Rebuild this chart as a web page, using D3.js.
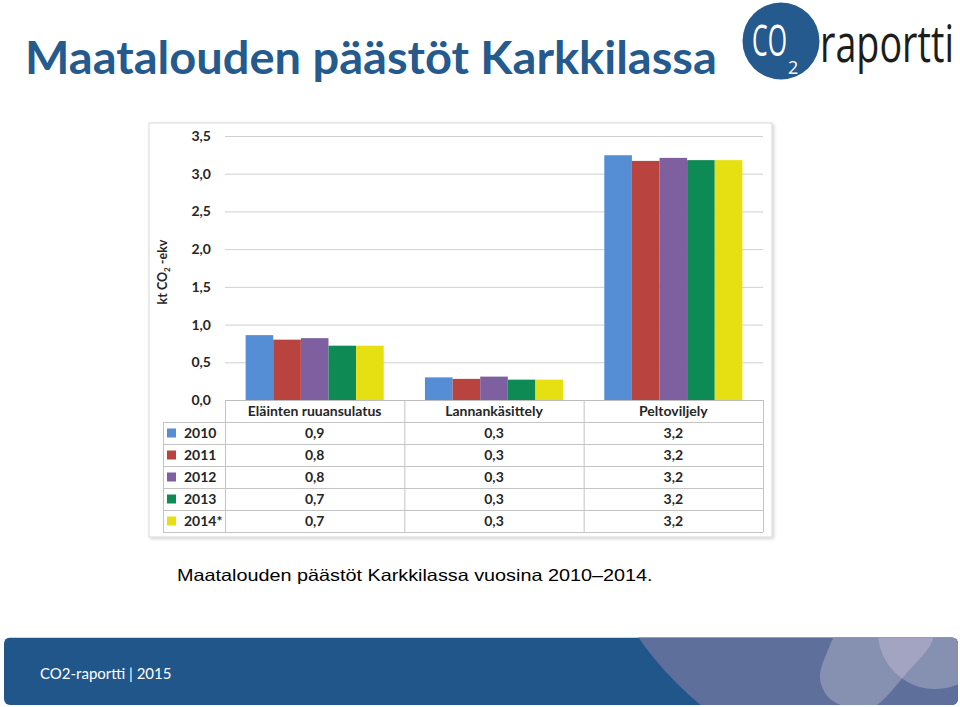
<!DOCTYPE html>
<html><head><meta charset="utf-8">
<script src="https://cdn.jsdelivr.net/npm/d3@7"></script>
<style>body{margin:0;background:#fff}svg{display:block}</style>
</head><body>
<script>
// ---- data ----
const categories = ["Eläinten ruuansulatus", "Lannankäsittely", "Peltoviljely"];
const years = ["2010", "2011", "2012", "2013", "2014*"];
const v2010 = [0.86, 0.30, 3.245];
const v2011 = [0.80, 0.28, 3.17];
const v2012 = [0.82, 0.31, 3.21];
const v2013 = [0.72, 0.27, 3.18];
const v2014 = [0.72, 0.27, 3.18];
const yTicks = [0, 0.5, 1, 1.5, 2, 2.5, 3, 3.5];
const seriesColors = ["#558ED5", "#B9433F", "#7E5F9F", "#0E8A55", "#E6E012"];
const titleText = "Maatalouden päästöt Karkkilassa";
const captionText = "Maatalouden päästöt Karkkilassa vuosina 2010–2014.";
const footerText = "CO2-raportti | 2015";

const seriesValues = [v2010, v2011, v2012, v2013, v2014];
const series = years.map((y, i) => ({name: y, values: seriesValues[i], color: seriesColors[i]}));

const W = 960, H = 707;
const svg = d3.select("body").append("svg").attr("width", W).attr("height", H);
svg.append("rect").attr("width", W).attr("height", H).attr("fill", "#fff");

const fiLocale = d3.formatLocale({decimal: ",", thousands: " ", grouping: [3], currency: ["", "€"]});
const fmt = fiLocale.format(".1f");

// place a text at (x,y) and scale it horizontally so that it spans width w
function scaledText(parent, x, y, w, str, attrs) {
  const g = parent.append("g");
  const t = g.append("text").attr("x", 0).attr("y", 0).text(str);
  Object.entries(attrs).forEach(([k, v]) => t.attr(k, v));
  const L = t.node().getComputedTextLength();
  g.attr("transform", `translate(${x},${y}) scale(${w / L},1)`);
  return t;
}

// ---- title ----
scaledText(svg, 25, 74, 692, titleText, {
  "font-family": "Lato, 'Open Sans', sans-serif", "font-weight": 700, "font-size": 45, "fill": "#245A8E"});

// ---- logo ----
const logo = svg.append("g");
logo.append("circle").attr("cx", 781).attr("cy", 41).attr("r", 38.5).attr("fill", "#245A8E");
scaledText(logo, 752, 56, 35, "CO", {
  "font-family": "'Open Sans', sans-serif", "font-weight": 400, "font-size": 44, "fill": "#fff"});
logo.append("text").attr("x", 788).attr("y", 74)
  .attr("font-family", "'Open Sans', sans-serif").attr("font-size", 18).attr("fill", "#fff").text("2");
scaledText(logo, 820, 62, 134, "raportti", {
  "font-family": "'Open Sans', sans-serif", "font-weight": 400, "font-size": 52, "fill": "#1d1d1b"});

// ---- chart frame ----
const defs = svg.append("defs");
const sh = defs.append("filter").attr("id", "sh").attr("x", "-5%").attr("y", "-5%").attr("width", "110%").attr("height", "110%");
sh.append("feDropShadow").attr("dx", 1.5).attr("dy", 1.5).attr("stdDeviation", 1.5).attr("flood-color", "#000").attr("flood-opacity", 0.18);
svg.append("rect").attr("x", 149).attr("y", 123).attr("width", 623).attr("height", 414)
  .attr("fill", "#fff").attr("stroke", "#d9d9d9").attr("stroke-width", 1).attr("filter", "url(#sh)");

// ---- scales ----
const plotL = 225, plotR = 763, plotT = 136, plotB = 400;
const x0 = d3.scaleBand().domain(categories).range([plotL, plotR]).paddingInner(0.23).paddingOuter(0.115);
const x1 = d3.scaleBand().domain(years).range([0, x0.bandwidth()]).padding(0);
const y = d3.scaleLinear().domain([0, 3.5]).range([plotB, plotT]);

// gridlines
svg.append("g").selectAll("line").data(yTicks.filter(d => d > 0)).join("line")
  .attr("x1", plotL).attr("x2", plotR).attr("y1", d => y(d) + 0.5).attr("y2", d => y(d) + 0.5)
  .attr("stroke", "#d0d0d0").attr("stroke-width", 1);

// y axis labels
const yAxis = svg.append("g").attr("transform", `translate(${plotL},0)`)
  .call(d3.axisLeft(y).tickValues(yTicks).tickFormat(fmt).tickSize(0).tickPadding(14));
yAxis.select(".domain").remove();
yAxis.selectAll("text").attr("font-family", "Lato, sans-serif").attr("font-weight", 700)
  .attr("font-size", 14).attr("fill", "#262626");

// y title
const yt = svg.append("text").attr("transform", "translate(167,272) rotate(-90)")
  .attr("text-anchor", "middle").attr("font-family", "Lato, sans-serif").attr("font-weight", 700)
  .attr("font-size", 12.5).attr("fill", "#262626");
yt.append("tspan").text("kt CO");
yt.append("tspan").attr("font-size", 8).attr("dy", 3).text("2");
yt.append("tspan").attr("dy", -3).text(" -ekv");

// bars
const gBars = svg.append("g");
series.forEach(s => {
  gBars.append("g").selectAll("rect").data(categories.map((c, i) => ({c, v: s.values[i]}))).join("rect")
    .attr("x", d => x0(d.c) + x1(s.name))
    .attr("width", x1.bandwidth())
    .attr("y", d => y(d.v))
    .attr("height", d => y(0) - y(d.v))
    .attr("fill", s.color);
});

// ---- data table ----
const tbl = svg.append("g");
const headerH = 22, rowH = 22;
const tableTop = plotB, tableLeft = 163;
const rowTop = i => tableTop + headerH + i * rowH;
const lineC = "#c4c4c4";
tbl.append("line").attr("x1", plotL).attr("x2", plotR).attr("y1", tableTop + 0.5).attr("y2", tableTop + 0.5).attr("stroke", "#bdbdbd");
d3.range(years.length + 1).forEach(i => {
  tbl.append("line").attr("x1", tableLeft).attr("x2", plotR)
    .attr("y1", rowTop(i) + 0.5).attr("y2", rowTop(i) + 0.5).attr("stroke", lineC);
});
const colEdges = [plotL].concat(categories.map(c => x0(c) - x0.step() * x0.paddingInner() / 2 + x0.step()));
colEdges[colEdges.length - 1] = plotR;
colEdges.forEach(xv => {
  tbl.append("line").attr("x1", xv + 0.5).attr("x2", xv + 0.5).attr("y1", tableTop).attr("y2", rowTop(years.length)).attr("stroke", lineC);
});
tbl.append("line").attr("x1", tableLeft + 0.5).attr("x2", tableLeft + 0.5).attr("y1", rowTop(0)).attr("y2", rowTop(years.length)).attr("stroke", lineC);

const tf = "Lato, sans-serif";
tbl.selectAll("text.hdr").data(categories).join("text").attr("class", "hdr")
  .attr("x", c => x0(c) + x0.bandwidth() / 2).attr("y", tableTop + headerH / 2).attr("dy", "0.35em")
  .attr("text-anchor", "middle").attr("font-family", tf).attr("font-weight", 700).attr("font-size", 14)
  .attr("fill", "#262626").text(c => c);
series.forEach((s, i) => {
  const cy = rowTop(i) + rowH / 2;
  tbl.append("rect").attr("x", 167).attr("y", cy - 4.5).attr("width", 9).attr("height", 9).attr("fill", s.color);
  tbl.append("text").attr("x", 184).attr("y", cy).attr("dy", "0.35em")
    .attr("font-family", tf).attr("font-weight", 700).attr("font-size", 14).attr("fill", "#262626").text(s.name);
  tbl.append("g").selectAll("text").data(categories.map((c, j) => ({c, v: s.values[j]}))).join("text")
    .attr("x", d => x0(d.c) + x0.bandwidth() / 2).attr("y", cy).attr("dy", "0.35em")
    .attr("text-anchor", "middle").attr("font-family", tf).attr("font-weight", 700).attr("font-size", 14)
    .attr("fill", "#262626").text(d => fmt(d.v));
});

// ---- caption ----
scaledText(svg, 177, 581, 476, captionText, {
  "font-family": "'Liberation Sans', Arial, sans-serif", "font-size": 16.5, "fill": "#000"});

// ---- footer ----
const fx = 4, fy = 637.5, fw = 954, fh = 67.5;
defs.append("clipPath").attr("id", "fclip").append("rect")
  .attr("x", fx).attr("y", fy).attr("width", fw).attr("height", fh).attr("rx", 6);
const bShape = [[933,638],[925,615],[880,605],[845,620],[828,650],[820,678],[828,697],[843,706],[860,712],[877,705],[905,675]];
const bPath = d3.line().curve(d3.curveCatmullRomClosed)(bShape);
defs.append("clipPath").attr("id", "bclip").append("path").attr("d", bPath);
const foot = svg.append("g").attr("clip-path", "url(#fclip)");
foot.append("rect").attr("x", fx).attr("y", fy).attr("width", fw).attr("height", fh).attr("fill", "#21568A");
foot.append("circle").attr("cx", 910).attr("cy", 450).attr("r", 330).attr("fill", "#5F6F9C");
foot.append("path").attr("d", bPath).attr("fill", "#8690B1");
foot.append("circle").attr("cx", 935).attr("cy", 632).attr("r", 57).attr("fill", "#8690B1");
foot.append("g").attr("clip-path", "url(#bclip)").append("circle")
  .attr("cx", 935).attr("cy", 632).attr("r", 57).attr("fill", "#A2A4C2");
svg.append("text").attr("x", 40).attr("y", 679)
  .attr("font-family", "Lato, 'Open Sans', sans-serif").attr("font-size", 15)
  .attr("fill", "#fff").text(footerText);
</script>
</body></html>
